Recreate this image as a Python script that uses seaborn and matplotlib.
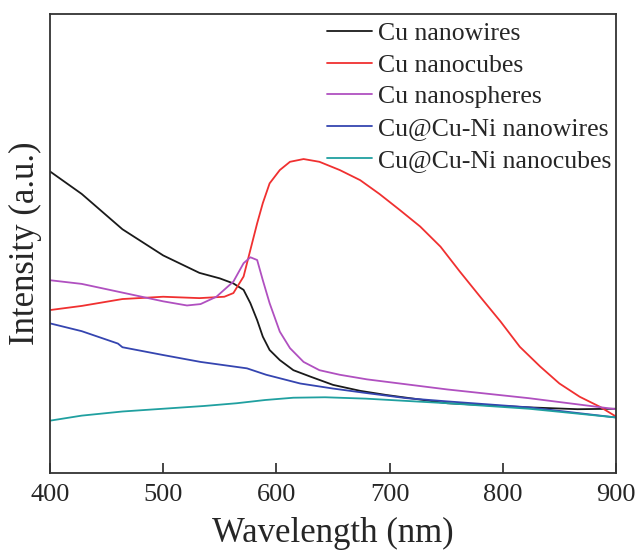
import numpy as np
import pandas as pd
import seaborn as sns
import matplotlib
matplotlib.use("Agg")
import matplotlib.pyplot as plt

# ---- data ----
labels = ["Cu nanowires", "Cu nanocubes", "Cu nanospheres",
          "Cu@Cu-Ni nanowires", "Cu@Cu-Ni nanocubes"]
colors = ["#1a1a1a", "#f03030", "#b050c0", "#3545b0", "#20a0a0"]

nw_x = [400, 428, 464, 500, 532, 550, 562, 571, 577, 583, 588, 594, 603, 615, 630, 650, 674, 697, 751, 823, 866, 900]
nw_y = [65.7, 60.8, 53.1, 47.4, 43.6, 42.4, 41.3, 39.9, 37.0, 33.3, 29.7, 26.8, 24.6, 22.4, 21.0, 19.2, 17.9, 17.0, 15.2, 14.3, 13.9, 14.0]

nc_x = [400, 428, 464, 500, 532, 554, 562, 571, 577, 583, 588, 594, 603, 612, 624, 638, 656, 674, 691, 709, 727,
        745, 762, 780, 798, 815, 833, 850, 868, 886, 900]
nc_y = [35.5, 36.4, 37.9, 38.4, 38.1, 38.4, 39.2, 42.8, 48.6, 54.4, 58.8, 63.1, 66.0, 67.8, 68.4, 67.8, 66.0, 63.8, 60.8, 57.3, 53.7,
        49.3, 43.9, 38.4, 33.0, 27.5, 23.2, 19.5, 16.6, 14.4, 12.3]

ns_x = [400, 428, 464, 500, 521, 533, 547, 562, 571, 577, 583, 588, 594, 603, 612, 624, 638, 656, 680, 709, 751, 823, 900]
ns_y = [42.0, 41.2, 39.3, 37.4, 36.5, 36.8, 38.4, 41.7, 45.7, 47.0, 46.4, 42.0, 37.0, 30.8, 27.2, 24.2, 22.4, 21.4, 20.4, 19.5, 18.2, 16.3, 13.9]

cnw_x = [400, 428, 460, 464, 500, 533, 574, 591, 621, 650, 680, 715, 751, 823, 900]
cnw_y = [32.6, 30.9, 28.2, 27.4, 25.7, 24.2, 22.8, 21.4, 19.5, 18.4, 17.4, 16.3, 15.6, 14.3, 12.1]

cnc_x = [400, 428, 464, 500, 536, 565, 590, 615, 643, 679, 715, 751, 823, 900]
cnc_y = [11.4, 12.5, 13.4, 14.0, 14.6, 15.2, 15.9, 16.4, 16.5, 16.2, 15.7, 15.2, 14.0, 12.1]

xticks = [400, 500, 600, 700, 800, 900]

series_x = [nw_x, nc_x, ns_x, cnw_x, cnc_x]
series_y = [nw_y, nc_y, ns_y, cnw_y, cnc_y]
frames = []
for lab, xs, ys in zip(labels, series_x, series_y):
    frames.append(pd.DataFrame({"Wavelength": xs, "Intensity": ys, "Sample": lab}))
df = pd.concat(frames, ignore_index=True)

# ---- style ----
sns.set_style("ticks")
plt.rcParams["font.family"] = ["Liberation Serif", "DejaVu Serif"]
plt.rcParams["axes.linewidth"] = 1.3

fig = plt.figure(figsize=(6.38, 5.52), dpi=100)
ax = fig.add_axes([50 / 638, 1 - 473 / 552, 566 / 638, 459 / 552])

sns.lineplot(data=df, x="Wavelength", y="Intensity", hue="Sample",
             hue_order=labels, palette=dict(zip(labels, colors)),
             linewidth=1.3, ax=ax, sort=False, estimator=None)

ax.set_xlim(400, 900)
ax.set_ylim(0, 100)
ax.set_xticks(xticks)
ax.set_xticklabels([str(t) for t in xticks])
ax.set_yticks([])
ax.tick_params(axis="x", direction="in", length=7, width=1.2, labelsize=19, pad=8)
for s in ax.spines.values():
    s.set_visible(True)
    s.set_color("#333333")

ax.set_xlabel("Wavelength (nm)", fontsize=25, labelpad=8)
ax.set_ylabel("Intensity (a.u.)", fontsize=25, labelpad=6)

leg = ax.legend(frameon=False, loc="upper left",
                bbox_to_anchor=(327 / 638, 1 - 22 / 552),
                bbox_transform=fig.transFigure,
                fontsize=18.5, handlelength=1.75, handletextpad=0.25,
                labelspacing=0.34, borderaxespad=0, borderpad=0)
for line in leg.get_lines():
    line.set_linewidth(1.3)

fig.savefig("out.png", dpi=100)
